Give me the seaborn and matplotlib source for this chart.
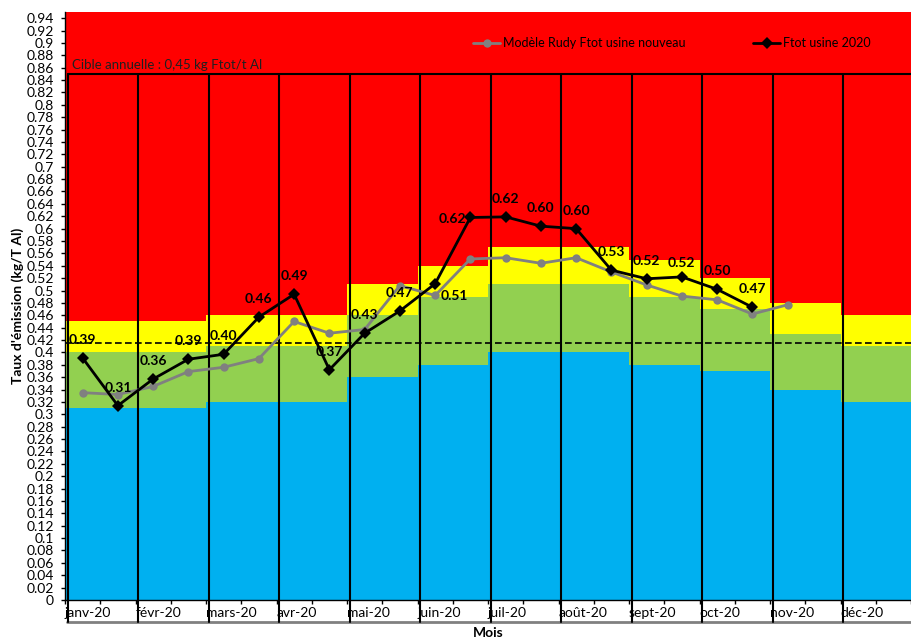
import numpy as np
import pandas as pd
import seaborn as sns
import matplotlib.pyplot as plt

# monthly labels, each month is split in two half-month categories
months = ["janv-20", "févr-20", "mars-20", "avr-20", "mai-20", "juin-20",
          "juil-20", "août-20", "sept-20", "oct-20", "nov-20", "déc-20"]

# background zones (upper limit of each zone, per month)
blue_top = [0.31, 0.31, 0.32, 0.32, 0.36, 0.38, 0.40, 0.40, 0.38, 0.37, 0.34, 0.32]
green_top = [0.40, 0.40, 0.41, 0.41, 0.46, 0.49, 0.51, 0.51, 0.49, 0.47, 0.43, 0.41]
yellow_top = [0.45, 0.45, 0.46, 0.46, 0.51, 0.54, 0.57, 0.57, 0.55, 0.52, 0.48, 0.46]
red_top = 0.95

# half-month series
ftot_2020 = [0.391, 0.314, 0.357, 0.389, 0.397, 0.457, 0.494, 0.372, 0.431, 0.467,
             0.511, 0.618, 0.619, 0.604, 0.600, 0.533, 0.519, 0.522, 0.502, 0.473]
modele_rudy = [0.335, 0.332, 0.345, 0.369, 0.376, 0.390, 0.450, 0.431, 0.437, 0.508,
               0.492, 0.551, 0.553, 0.544, 0.553, 0.530, 0.509, 0.491, 0.485, 0.462,
               0.477]

cible = 0.416
box_top = 0.85

sns.set_style("white")
plt.rcParams["font.family"] = ["Lato", "DejaVu Sans"]
for k in ["text.color", "axes.labelcolor", "xtick.color", "ytick.color"]:
    plt.rcParams[k] = "black"

fig = plt.figure(figsize=(9.11, 6.44), dpi=100)
ax = fig.add_axes([65 / 911, 1 - 600 / 644, 1 - 65 / 911, 588 / 644])

n = len(months) * 2
edges = np.arange(n + 1)

def halves(vals):
    v = np.repeat(vals, 2)
    return np.append(v, v[-1])

b = halves(blue_top)
g = halves(green_top)
y = halves(yellow_top)
ax.fill_between(edges, 0, b, step="post", color="#00B0F0", lw=0)
ax.fill_between(edges, b, g, step="post", color="#92D050", lw=0)
ax.fill_between(edges, g, y, step="post", color="#FFFF00", lw=0)
ax.fill_between(edges, y, red_top, step="post", color="#FF0000", lw=0)

# month boxes
for m in range(len(months)):
    ax.plot([2 * m + 0.08] * 2, [-0.036, box_top], color="black", lw=1.5,
            clip_on=False, zorder=3)
ax.plot([0.08, n], [box_top, box_top], color="black", lw=1.5, zorder=3)
ax.plot([0.05, n], [-0.036, -0.036], color="#808080", lw=2, clip_on=False)

ax.axhline(cible, color="black", lw=1.2, ls=(0, (4, 2)), zorder=4)

ax.text(0.2, box_top + 0.004, "Cible annuelle : 0,45 kg Ftot/t Al", fontsize=9.5,
        color="#202020", va="bottom", ha="left")

df_model = pd.DataFrame({"x": np.arange(len(modele_rudy)) + 0.5, "v": modele_rudy})
df_ftot = pd.DataFrame({"x": np.arange(len(ftot_2020)) + 0.5, "v": ftot_2020})
sns.lineplot(data=df_model, x="x", y="v", ax=ax, color="#808080", lw=2,
             marker="o", markersize=6, markeredgewidth=0,
             label="Modèle Rudy Ftot usine nouveau", zorder=5)
sns.lineplot(data=df_ftot, x="x", y="v", ax=ax, color="black", lw=2,
             marker="D", markersize=6.5, markeredgewidth=0,
             label="Ftot usine 2020", zorder=6)

# data labels, mostly above the points
offsets = {10: (19, -12), 11: (-18, -2), 17: (0, 14)}
for i, v in enumerate(ftot_2020):
    dx, dy = offsets.get(i, (0, 18))
    ax.annotate(f"{v:.2f}", (i + 0.5, v), xytext=(dx, dy),
                textcoords="offset pixels", ha="center", va="center",
                fontsize=10, fontweight="bold", color="black", zorder=7)

ax.set_xlim(0, (911 - 65) / 35.45)
ax.set_ylim(0, 0.95)
yt = np.round(np.arange(0, 0.941, 0.02), 2)
ax.set_yticks(yt)
ax.set_yticklabels([f"{t:g}" for t in yt])
ax.xaxis.remove_overlapping_locs = False
ax.set_xticks(edges)
ax.set_xticklabels([])
ax.set_xticks(np.arange(0, n, 2), labels=months, minor=True)
ax.tick_params(axis="x", which="major", length=3, width=1, color="black",
               direction="out", bottom=True)
ax.tick_params(axis="x", which="minor", length=0, pad=5, labelsize=10)
for lab in ax.get_xticklabels(minor=True):
    lab.set_horizontalalignment("left")
ax.tick_params(axis="y", length=3, width=1, color="black", direction="out",
               left=True, labelsize=10, pad=5)

for s in ["top", "right"]:
    ax.spines[s].set_visible(False)
for s in ["left", "bottom"]:
    ax.spines[s].set_color("black")
    ax.spines[s].set_linewidth(1)

ax.set_xlabel("Mois", fontsize=10, fontweight="bold", labelpad=6)
ax.set_ylabel("Taux d'émission (kg/T Al)", fontsize=10, fontweight="bold",
              labelpad=2)

ax.legend(loc="center", bbox_to_anchor=(0.717, 0.947), ncol=2, frameon=False,
          fontsize=9, handlelength=2.2, columnspacing=5.4, handletextpad=0.2)

fig.savefig("out.png", dpi=100)
